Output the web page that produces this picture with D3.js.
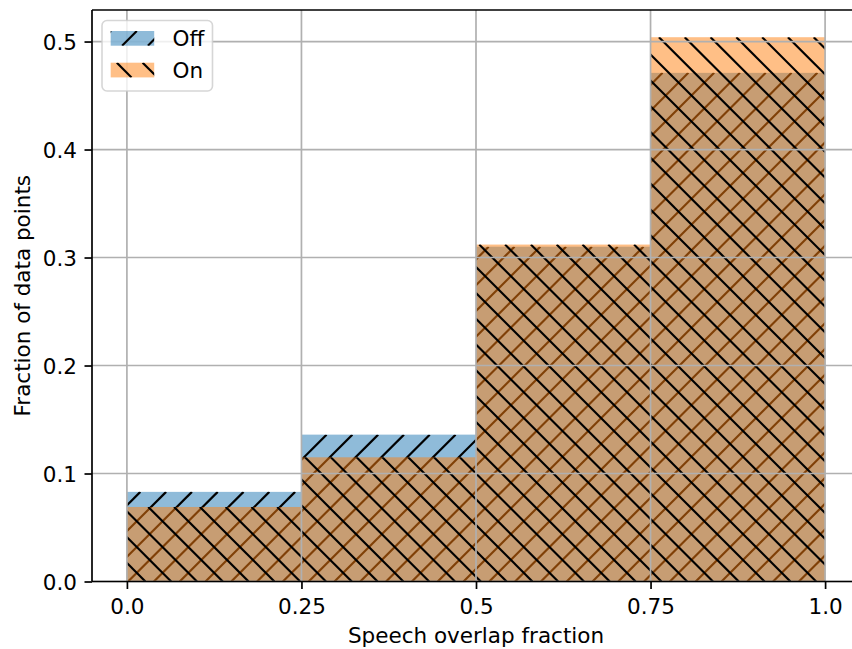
<!DOCTYPE html>
<html>
<head>
<meta charset="utf-8">
<script src="https://cdn.jsdelivr.net/npm/d3@7"></script>
<style>
  body { margin: 0; background: #fff; }
  svg { display: block; }
  text { font-family: "DejaVu Sans", sans-serif; fill: #000; }
</style>
</head>
<body>
<svg id="chart" width="852" height="649"></svg>
<script>
// Histogram bins and normalised counts (fraction of data points per bin)
const binEdges = [0, 0.25, 0.5, 0.75, 1.0];
const seriesNames = ["Off", "On"];
const offValues = [0.083, 0.136, 0.310, 0.471];
const onValues = [0.069, 0.115, 0.312, 0.504];
const xTickValues = [0, 0.25, 0.5, 0.75, 1.0];
const xTickLabels = ["0.0", "0.25", "0.5", "0.75", "1.0"];
const yTickValues = [0, 0.1, 0.2, 0.3, 0.4, 0.5];
const yTickLabels = ["0.0", "0.1", "0.2", "0.3", "0.4", "0.5"];
const xLabel = "Speech overlap fraction";
const yLabel = "Fraction of data points";

const seriesStyle = {
  Off: { fill: "rgba(31,119,180,0.5)", hatch: "/", phase: 13 },
  On:  { fill: "rgba(255,127,14,0.5)", hatch: "\\", phase: 2.5 }
};

const svg = d3.select("#chart");
const defs = svg.append("defs");

const plot = { left: 92, right: 860, top: 10, bottom: 581.5 };
const fontSize = 21.5;
const lw = 1.7;
const hatchStep = 25.8;
const hatchWidth = 2.15;

const x = d3.scaleLinear().domain([-0.05, 1.05]).range([plot.left, plot.right]);
const yMax = d3.max([...offValues, ...onValues]) * 1.05;
const y = d3.scaleLinear().domain([0, yMax]).range([plot.bottom, plot.top]);

let clipCount = 0;
function drawHatch(g, x0, y0, x1, y1, kind, phase) {
  const id = "hclip" + (clipCount++);
  defs.append("clipPath").attr("id", id)
    .append("rect").attr("x", x0).attr("y", y0).attr("width", x1 - x0).attr("height", y1 - y0);
  const hg = g.append("g").attr("clip-path", `url(#${id})`);
  const lines = [];
  if (kind === "/") {
    // lines along x + y = const
    const lo = Math.floor((x0 + y0 - phase) / hatchStep) - 1;
    const hi = Math.ceil((x1 + y1 - phase) / hatchStep) + 1;
    for (let k = lo; k <= hi; k++) {
      const t = phase + k * hatchStep;
      lines.push([t - y1, y1, t - y0, y0]);
    }
  } else {
    // lines along x - y = const
    const lo = Math.floor((x0 - y1 - phase) / hatchStep) - 1;
    const hi = Math.ceil((x1 - y0 - phase) / hatchStep) + 1;
    for (let k = lo; k <= hi; k++) {
      const t = phase + k * hatchStep;
      lines.push([t + y0, y0, t + y1, y1]);
    }
  }
  hg.selectAll("line").data(lines).join("line")
    .attr("x1", d => d[0]).attr("y1", d => d[1])
    .attr("x2", d => d[2]).attr("y2", d => d[3])
    .attr("stroke", "#000").attr("stroke-width", hatchWidth);
}

// Bars: each series is filled, then hatched, in drawing order
const seriesData = { Off: offValues, On: onValues };
seriesNames.forEach(name => {
  const st = seriesStyle[name];
  const g = svg.append("g").attr("class", "series-" + name);
  seriesData[name].forEach((v, i) => {
    const bx0 = x(binEdges[i]), bx1 = x(binEdges[i + 1]);
    const by0 = y(v), by1 = y(0);
    g.append("rect")
      .attr("x", bx0).attr("y", by0)
      .attr("width", bx1 - bx0).attr("height", by1 - by0)
      .attr("fill", st.fill);
    drawHatch(g, bx0, by0, bx1, by1, st.hatch, st.phase);
  });
});

// Grid lines (drawn above the bars)
const grid = svg.append("g").attr("stroke", "#b0b0b0").attr("stroke-width", lw);
grid.selectAll(".gx").data(xTickValues).join("line")
  .attr("x1", d => x(d)).attr("x2", d => x(d))
  .attr("y1", plot.top).attr("y2", plot.bottom);
grid.selectAll(".gy").data(yTickValues).join("line")
  .attr("x1", plot.left).attr("x2", plot.right)
  .attr("y1", d => y(d)).attr("y2", d => y(d));

// Axes
const xAxis = d3.axisBottom(x).tickValues(xTickValues)
  .tickFormat((d, i) => xTickLabels[i]).tickSize(7.5).tickSizeOuter(0).tickPadding(7.5);
const yAxis = d3.axisLeft(y).tickValues(yTickValues)
  .tickFormat((d, i) => yTickLabels[i]).tickSize(7.5).tickSizeOuter(0).tickPadding(7.5);

const gx = svg.append("g").attr("transform", `translate(0,${plot.bottom})`).call(xAxis);
const gy = svg.append("g").attr("transform", `translate(${plot.left},0)`).call(yAxis);
[gx, gy].forEach(g => {
  g.select(".domain").remove();
  g.selectAll(".tick line").attr("stroke", "#000").attr("stroke-width", lw);
  g.selectAll(".tick text").attr("font-size", fontSize).attr("font-family", "DejaVu Sans").attr("fill", "#000");
});
gx.selectAll(".tick text").attr("dy", null).attr("y", 32.5);
gy.selectAll(".tick text").attr("dy", "0.36em");

// Spines
const spines = svg.append("g").attr("stroke", "#000").attr("stroke-width", lw).attr("fill", "none");
spines.append("line").attr("x1", plot.left).attr("x2", plot.left).attr("y1", plot.top).attr("y2", plot.bottom);
spines.append("line").attr("x1", plot.left).attr("x2", plot.right).attr("y1", plot.bottom).attr("y2", plot.bottom);
spines.append("line").attr("x1", plot.left).attr("x2", plot.right).attr("y1", plot.top).attr("y2", plot.top);
spines.append("line").attr("x1", plot.right).attr("x2", plot.right).attr("y1", plot.top).attr("y2", plot.bottom);

// Axis titles
svg.append("text")
  .attr("x", (plot.left + plot.right) / 2).attr("y", 643)
  .attr("text-anchor", "middle").attr("font-size", fontSize)
  .text(xLabel);
svg.append("text")
  .attr("transform", `translate(29.5,${(plot.top + plot.bottom) / 2}) rotate(-90)`)
  .attr("text-anchor", "middle").attr("font-size", fontSize)
  .text(yLabel);

// Legend
const legend = svg.append("g");
legend.append("rect")
  .attr("x", 102).attr("y", 20.5).attr("width", 110.5).attr("height", 70.5)
  .attr("rx", 5).attr("ry", 5)
  .attr("fill", "rgba(255,255,255,0.8)")
  .attr("stroke", "rgba(204,204,204,0.8)").attr("stroke-width", 1.6);
seriesNames.forEach((name, i) => {
  const st = seriesStyle[name];
  const hx = 110.7, hy = 31 + i * 31.7, hw = 43.5, hh = 14.7;
  legend.append("rect").attr("x", hx).attr("y", hy).attr("width", hw).attr("height", hh)
    .attr("fill", st.fill);
  drawHatch(legend, hx, hy, hx + hw, hy + hh, st.hatch, st.phase);
  legend.append("text")
    .attr("x", 172.5).attr("y", hy + hh / 2 + 7.8)
    .attr("font-size", fontSize)
    .text(name);
});
</script>
</body>
</html>
